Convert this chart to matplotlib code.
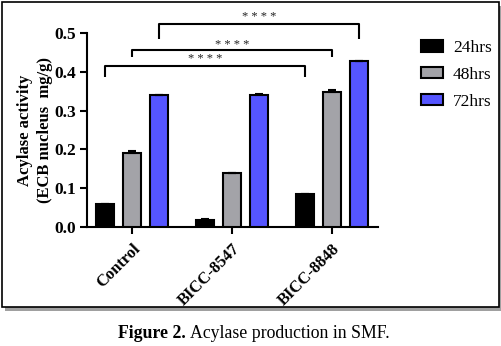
import numpy as np
import matplotlib.pyplot as plt
from matplotlib.patches import Patch, Rectangle

plt.rcParams['font.family'] = ['Liberation Serif', 'DejaVu Serif']

# data
strains = ['Control', 'BICC-8547', 'BICC-8848']
series_names = ['24hrs', '48hrs', '72hrs']
vals_24 = [0.058, 0.018, 0.084]
vals_48 = [0.190, 0.138, 0.347]
vals_72 = [0.339, 0.341, 0.427]
err_24 = [0.002, 0.002, 0.002]
err_48 = [0.005, 0.002, 0.006]
err_72 = [0.001, 0.002, 0.001]
yticks = [0.0, 0.1, 0.2, 0.3, 0.4, 0.5]

# significance brackets: (series index, bar top, leg bottom, star y)
brackets = [(0, 0.415, 0.387, 0.433),
            (1, 0.456, 0.438, 0.468),
            (2, 0.523, 0.485, 0.541)]

colors = ['#000000', '#a3a3a8', '#5555ff']

fig = plt.figure(figsize=(5.02, 3.46), dpi=100)

# outer frame with a drop shadow
shadow = Rectangle((5 / 502, 1 - 311 / 346), 496 / 502, 305 / 346,
                   transform=fig.transFigure, facecolor='#a0a0a0',
                   edgecolor='none', zorder=-2)
frame = Rectangle((2 / 502, 1 - 307 / 346), 497 / 502, 305 / 346,
                  transform=fig.transFigure, facecolor='white',
                  edgecolor='black', linewidth=1.2, zorder=-1)
fig.patches.extend([shadow, frame])

ax = fig.add_axes([87 / 502, 1 - 227 / 346, 291 / 502, 194 / 346])
ax.patch.set_alpha(0)

x = np.arange(len(strains))
step = 0.27
width = 0.18
all_vals = [vals_24, vals_48, vals_72]
all_errs = [err_24, err_48, err_72]
for i, (v, e) in enumerate(zip(all_vals, all_errs)):
    ax.bar(x + (i - 1) * step, v, width, yerr=[np.zeros(3), e],
           color=colors[i], edgecolor='black', linewidth=1.5,
           error_kw=dict(ecolor='black', elinewidth=1.5, capsize=3, capthick=1.5),
           label=series_names[i], zorder=3)

# brackets between Control and BICC-8848
for i, top, leg, star_y in brackets:
    x1 = x[0] + (i - 1) * step
    x2 = x[2] + (i - 1) * step
    ax.plot([x1, x1, x2, x2], [leg, top, top, leg], color='black',
            linewidth=1.5, clip_on=False, solid_capstyle='butt')
    ax.text((x1 + x2) / 2, star_y, '* * * *', ha='center', va='center',
            fontsize=9, color='#222222', clip_on=False)

ax.set_xlim(-0.45, 2.46)
ax.set_ylim(0, 0.5)
ax.set_yticks(yticks)
ax.set_yticklabels([f'{t:.1f}' for t in yticks], fontsize=12.5, fontweight='bold')
ax.set_xticks(x)
ax.set_xticklabels(strains, fontsize=12, fontweight='bold', rotation=45,
                   ha='right', rotation_mode='anchor')
ax.spines['top'].set_visible(False)
ax.spines['right'].set_visible(False)
ax.spines['left'].set_linewidth(1.5)
ax.spines['bottom'].set_linewidth(1.5)
ax.tick_params(axis='both', width=1.5, length=5)
ax.tick_params(axis='y', pad=3)
ax.tick_params(axis='x', pad=5)
ax.set_ylabel('Acylase activity\n(ECB nucleus  mg/g)', fontsize=12,
              fontweight='bold', labelpad=1, linespacing=1.3)

handles = [Patch(facecolor=c, edgecolor='black', linewidth=1.5) for c in colors]
fig.legend(handles, series_names, loc='upper left',
           bbox_to_anchor=(421 / 502, 1 - 40 / 346), frameon=False,
           fontsize=12.5, handlelength=1.25, handleheight=0.65,
           labelspacing=0.62, handletextpad=0.6, borderpad=0, borderaxespad=0)

cap1 = fig.text(118 / 502, 1 - 338 / 346, 'Figure 2.', fontsize=12.8,
                fontweight='bold', ha='left', va='baseline')
ax.annotate('Acylase production in SMF.', xy=(1, 0), xycoords=cap1,
            xytext=(3, 0), textcoords='offset points', fontsize=12.8,
            ha='left', va='bottom', annotation_clip=False)

fig.savefig('out.png', dpi=100)
